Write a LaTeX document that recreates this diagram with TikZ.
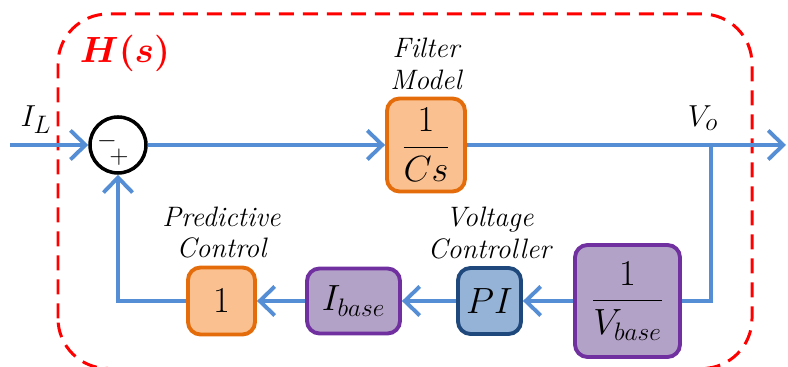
\documentclass[tikz,border=0pt]{standalone}
\usepackage{amsmath}
\usepackage{bm}
\usetikzlibrary{arrows.meta, positioning}

\definecolor{sigblue}{HTML}{558ED5}
\definecolor{orfill}{HTML}{FAC090}
\definecolor{ordraw}{HTML}{E46C0A}
\definecolor{pufill}{HTML}{B3A2C7}
\definecolor{pudraw}{HTML}{7030A0}
\definecolor{blfill}{HTML}{95B3D7}
\definecolor{bldraw}{HTML}{1F497D}

\begin{document}
\begin{tikzpicture}[>={Straight Barb[length=3mm,width=5.8mm]}, node distance=1mm,
  signal/.style={draw=sigblue, line width=2.2pt},
  block/.style={rectangle, rounded corners=2.5mm, line width=2.2pt, inner sep=0pt, font=\huge},
  tag/.style={font=\fontsize{16}{18}\selectfont\itshape, align=center, inner sep=1pt}]
\useasboundingbox (0,0) rectangle (15.76,7.34);

% H(s) frame
\draw [red, line width=1.7pt, dash pattern=on 3mm off 1.8mm, rounded corners=10mm] (1.16,-0.03) rectangle (15.04,7.06);
\node [text=red, font=\huge] (hs) at (2.5,6.28) {$\bm{H(s)}$};

% blocks
\node [circle, draw=black, fill=white, line width=2pt, minimum size=1.12cm] (sum) at (2.36,4.44) {};
\node [font=\Large, inner sep=0pt] (minus) at ([shift={(-0.22,0.08)}]sum.center) {$-$};
\node [font=\Large, inner sep=0pt] (plus) at ([shift={(0.02,-0.24)}]sum.center) {$+$};
\node [block, fill=orfill, draw=ordraw, minimum width=1.56cm, minimum height=1.86cm] (filter) at (8.52,4.44) {$\dfrac{1}{Cs}$};
\node [block, fill=pufill, draw=pudraw, minimum width=2.1cm, minimum height=2.24cm] (vbase) at (12.55,1.32) {$\dfrac{1}{V_{base}}$};
\node [block, fill=blfill, draw=bldraw, minimum width=1.26cm, minimum height=1.32cm] (pi) at (9.79,1.32) {$PI$};
\node [block, fill=pufill, draw=pudraw, minimum width=1.86cm, minimum height=1.3cm] (ibase) at (7.07,1.32) {$I_{base}$};
\node [block, fill=orfill, draw=ordraw, minimum width=1.34cm, minimum height=1.34cm] (pred) at (4.43,1.32) {$1$};

% labels
\node [tag, above = of filter] (filtertag) {Filter\\Model};
\node [tag, above = of pred] (predtag) {Predictive\\Control};
\node [tag, above = of pi] (pitag) {Voltage\\Controller};
\node [font=\fontsize{19}{23}\selectfont] (il) at (0.72,4.94) {$I_L$};
\node [font=\fontsize{19}{23}\selectfont] (vo) at (14.06,4.98) {$V_o$};

\coordinate (in) at (0.2,4.44);
\coordinate (branch) at (14.22,4.44);
\coordinate (out) at (15.72,4.44);

\draw [signal, ->] (in) -- (sum);
\draw [signal, ->] (sum) -- (filter);
\draw [signal, ->] (filter) -- (out);
\draw [signal] (branch) |- (vbase.east);
\draw [signal, ->] (vbase) -- (pi);
\draw [signal, ->] (pi) -- (ibase);
\draw [signal, ->] (ibase) -- (pred);
\draw [signal, ->] (pred.west) -| (sum.south);

\end{tikzpicture}
\end{document}
